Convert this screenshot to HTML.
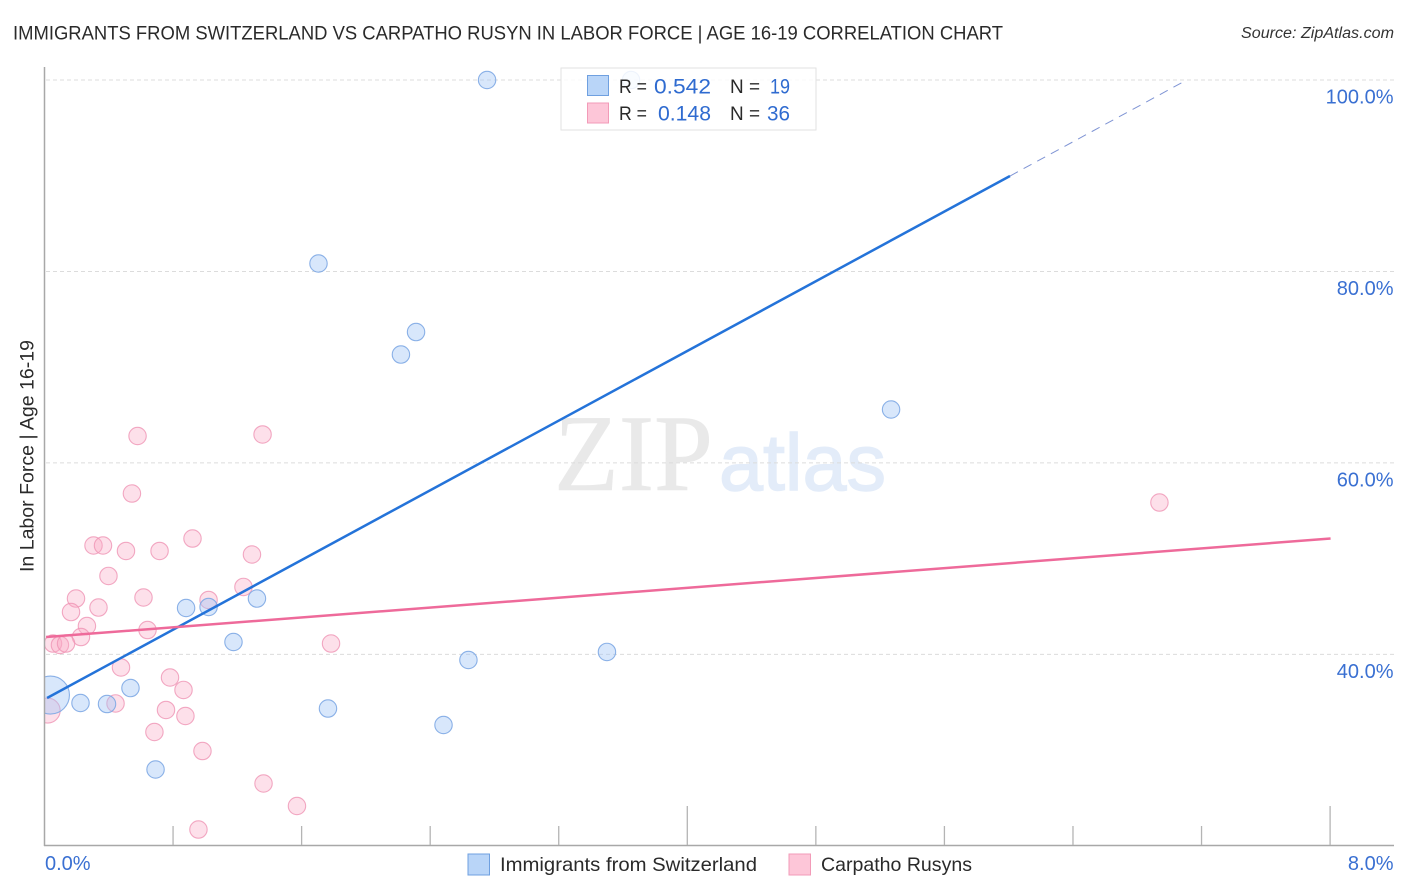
<!DOCTYPE html>
<html lang="en">
<head>
<meta charset="utf-8">
<title>Immigrants from Switzerland vs Carpatho Rusyn in Labor Force | Age 16-19 Correlation Chart</title>
<style>
html,body{margin:0;padding:0;background:#fff;width:1406px;height:892px;overflow:hidden}
svg{display:block;font-family:"Liberation Sans",sans-serif}
</style>
</head>
<body>
<svg id="chart" xmlns="http://www.w3.org/2000/svg" width="1406" height="892" viewBox="0 0 1406 892">
  <defs>
    <clipPath id="plot-clip"><rect x="44.5" y="60" width="1350" height="785"/></clipPath>
  </defs>
  <rect x="0" y="0" width="1406" height="892" fill="#fff"/>

  <text x="13" y="39.5" font-size="19.5" fill="#2a2a2a" textLength="990" lengthAdjust="spacingAndGlyphs">IMMIGRANTS FROM SWITZERLAND VS CARPATHO RUSYN IN LABOR FORCE | AGE 16-19 CORRELATION CHART</text>
  <text x="1241" y="38" font-size="15.5" font-style="italic" fill="#333" textLength="153" lengthAdjust="spacingAndGlyphs">Source: ZipAtlas.com</text>

  <g>
    <text x="554" y="490" font-family="'Liberation Serif',serif" font-size="109" fill="#e9e9e9" stroke="#e9e9e9" stroke-width="0.6" textLength="159" lengthAdjust="spacingAndGlyphs">ZIP</text>
    <text x="719" y="490" font-size="80" fill="#e3ecf9" stroke="#e3ecf9" stroke-width="1.4" textLength="167" lengthAdjust="spacingAndGlyphs">atlas</text>
  </g>

  <g id="grid"></g>
  <g id="points-layer" clip-path="url(#plot-clip)"></g>
  <g id="trend-layer"></g>
  <g id="axes"></g>

  <text transform="translate(33.5,572) rotate(-90)" font-size="19" fill="#2a2a2a" textLength="232" lengthAdjust="spacingAndGlyphs">In Labor Force | Age 16-19</text>

  <g>
    <rect x="561" y="68" width="255" height="62" fill="#fff" fill-opacity="0.85" stroke="#e2e2e2" stroke-width="1"/>
    <rect x="587.5" y="75.5" width="21" height="20" fill="#b9d5f8" stroke="#6fa0e0" stroke-width="1"/>
    <rect x="587.5" y="103" width="21" height="20" fill="#fdc6d8" stroke="#f29bb8" stroke-width="1"/>
    <g font-size="19.5" fill="#2a2a2a">
      <text x="619" y="93" textLength="28" lengthAdjust="spacingAndGlyphs">R =</text>
      <text x="730" y="93" textLength="30" lengthAdjust="spacingAndGlyphs">N =</text>
      <text x="619" y="120" textLength="28" lengthAdjust="spacingAndGlyphs">R =</text>
      <text x="730" y="120" textLength="30" lengthAdjust="spacingAndGlyphs">N =</text>
    </g>
    <g font-size="21" fill="#2f6bd0">
      <text x="654" y="93.5" textLength="57" lengthAdjust="spacingAndGlyphs">0.542</text>
      <text x="770" y="93.5" textLength="20" lengthAdjust="spacingAndGlyphs">19</text>
      <text x="658" y="120.5" textLength="53" lengthAdjust="spacingAndGlyphs">0.148</text>
      <text x="767" y="120.5" textLength="23" lengthAdjust="spacingAndGlyphs">36</text>
    </g>
  </g>

  <g>
    <rect x="468" y="854" width="21.5" height="21" fill="#b9d5f8" stroke="#6fa0e0" stroke-width="1"/>
    <text x="500" y="871" font-size="19.5" fill="#2a2a2a" textLength="257" lengthAdjust="spacingAndGlyphs">Immigrants from Switzerland</text>
    <rect x="789" y="854" width="21.5" height="21" fill="#fdc6d8" stroke="#f29bb8" stroke-width="1"/>
    <text x="821" y="871" font-size="19.5" fill="#2a2a2a" textLength="151" lengthAdjust="spacingAndGlyphs">Carpatho Rusyns</text>
  </g>
</svg>

<script>
const blueX = [2.754, 3.650, 1.705, 2.312, 2.218, 5.268, 1.322, 0.881, 1.021, 1.176, 2.638, 3.500, 0.535, 0.224, 0.389, 1.764, 2.483, 0.691, 0.037];
const blueY = [100.0, 100.0, 80.83, 73.67, 71.32, 65.58, 45.83, 44.84, 44.95, 41.29, 39.41, 40.25, 36.48, 34.92, 34.81, 34.34, 32.62, 27.97, 35.75];
const blueWeight = [1, 1, 1, 1, 1, 1, 1, 1, 1, 1, 1, 1, 1, 1, 1, 1, 1, 1, 4.77];

const pinkX = [0.579, 1.357, 0.544, 6.938, 0.921, 0.305, 0.364, 0.507, 0.716, 1.291, 0.398, 1.238, 0.616, 0.196, 1.021, 0.336, 0.165, 0.264, 0.641, 0.227, 0.053, 0.096, 0.134, 1.783, 0.476, 0.781, 0.865, 0.442, 0.756, 0.877, 0.684, 0.983, 1.363, 1.571, 0.958, 0.020];
const pinkY = [62.81, 62.97, 56.80, 55.86, 52.10, 51.37, 51.37, 50.80, 50.80, 50.43, 48.19, 47.04, 45.94, 45.83, 45.68, 44.89, 44.42, 42.96, 42.54, 41.81, 41.13, 40.98, 41.13, 41.13, 38.63, 37.58, 36.28, 34.87, 34.19, 33.56, 31.89, 29.90, 26.51, 24.16, 21.70, 34.13];
const pinkWeight = [1, 1, 1, 1, 1, 1, 1, 1, 1, 1, 1, 1, 1, 1, 1, 1, 1, 1, 1, 1, 1, 1, 1, 1, 1, 1, 1, 1, 1, 1, 1, 1, 1, 1, 1, 2.06];

const blueTrendX = [0.016, 6.008];
const blueTrendY = [35.44, 89.97];
const blueExtensionX = [6.008, 7.085];
const blueExtensionY = [89.97, 99.79];
const pinkTrendX = [0.010, 8.003];
const pinkTrendY = [41.81, 52.10];

const yTicks = [100, 80, 60, 40];
const yTickLabels = ['100.0%', '80.0%', '60.0%', '40.0%'];
const xTicks = [0.8, 1.6, 2.4, 3.2, 4.0, 4.8, 5.6, 6.4, 7.2, 8.0];
const xMajorTicks = [4.0, 8.0];
const xEndLabels = ['0.0%', '8.0%'];
const xEndValues = [0, 8];

const NS = 'http://www.w3.org/2000/svg';
function xScale(v) { return 44.5 + v * 160.7; }
function yScale(v) { return 80 + (100 - v) * 9.5725; }
function make(tag, parent, attrs) {
  const el = document.createElementNS(NS, tag);
  for (const k in attrs) el.setAttribute(k, attrs[k]);
  parent.appendChild(el);
  return el;
}

const grid = document.getElementById('grid');
const axes = document.getElementById('axes');
const pointsLayer = document.getElementById('points-layer');
const trendLayer = document.getElementById('trend-layer');

yTicks.forEach(function (v, i) {
  const line = make('line', grid, { x1: 46, x2: 1394, y1: yScale(v), y2: yScale(v), stroke: '#dcdcdc', 'stroke-width': 1, 'stroke-dasharray': '4 3' });
  
  
  const label = make('text', axes, { x: 1393.5, y: yScale(v) + 23.5, 'text-anchor': 'end', 'font-size': 20, fill: '#3a70d2' });
  
  
  label.textContent = yTickLabels[i];
});

const yAxisLine = make('line', axes, { x1: 44.5, x2: 44.5, y1: 67, y2: 846, stroke: '#a8a8a8', 'stroke-width': 1.5 });


const xAxisLine = make('line', axes, { x1: 44, x2: 1394, y1: 845.5, y2: 845.5, stroke: '#a8a8a8', 'stroke-width': 1.5 });



xTicks.forEach(function (v) {
  const top = xMajorTicks.indexOf(v) >= 0 ? 806 : 826;
  const tick = make('line', axes, { x1: xScale(v), x2: xScale(v), y1: top, y2: 845, stroke: '#b4b4b4', 'stroke-width': 1.3 });
  
  
});

xEndValues.forEach(function (v, i) {
  const label = make('text', axes, { x: i === 0 ? xScale(v) + 0.5 : 1393.5, y: 870, 'text-anchor': i === 0 ? 'start' : 'end', 'font-size': 20, fill: '#3a70d2' });
  
  
  label.textContent = xEndLabels[i];
});

function radius(w) { return 8.7 * Math.sqrt(w); }

pinkX.forEach(function (v, i) {
  const c = make('circle', pointsLayer, { cx: xScale(v), cy: yScale(pinkY[i]), r: radius(pinkWeight[i]), fill: '#f9a8c4', 'fill-opacity': 0.36, stroke: '#ef94b4', 'stroke-opacity': 0.8, 'stroke-width': 1.1 });
  
  
});

blueX.forEach(function (v, i) {
  const c = make('circle', pointsLayer, { cx: xScale(v), cy: yScale(blueY[i]), r: radius(blueWeight[i]), fill: '#a3c6f5', 'fill-opacity': 0.42, stroke: '#7ea8e4', 'stroke-opacity': 0.9, 'stroke-width': 1.1 });
  
  
});

const blueExtension = make('line', trendLayer, { x1: xScale(blueExtensionX[0]), y1: yScale(blueExtensionY[0]), x2: xScale(blueExtensionX[1]), y2: yScale(blueExtensionY[1]), stroke: '#7f94d4', 'stroke-width': 1, 'stroke-dasharray': '9 6.5' });



const blueTrend = make('line', trendLayer, { x1: xScale(blueTrendX[0]), y1: yScale(blueTrendY[0]), x2: xScale(blueTrendX[1]), y2: yScale(blueTrendY[1]), stroke: '#2473d9', 'stroke-width': 2.5 });



const pinkTrend = make('line', trendLayer, { x1: xScale(pinkTrendX[0]), y1: yScale(pinkTrendY[0]), x2: xScale(pinkTrendX[1]), y2: yScale(pinkTrendY[1]), stroke: '#ee6a9a', 'stroke-width': 2.5 });


</script>
</body>
</html>
